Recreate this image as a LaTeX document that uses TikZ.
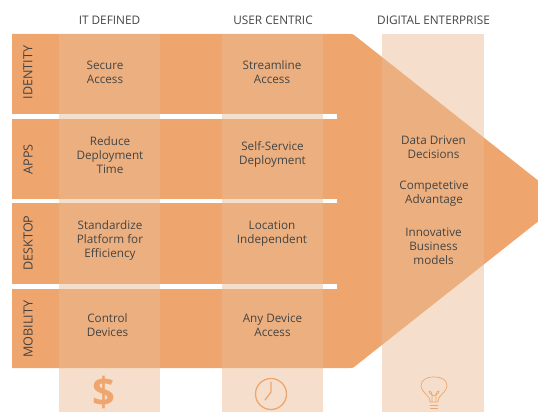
\documentclass[tikz,border=0pt]{standalone}
\usepackage{xcolor}
\usepackage{fontspec}
\setmainfont{Open Sans}
\definecolor{arrowfill}{HTML}{EFA66E}
\definecolor{colfill}{HTML}{EABC95}
\definecolor{textgray}{HTML}{444444}
\begin{document}
\begin{tikzpicture}[x=1pt,y=-1pt,thick]

	\tikzstyle{column} = [fill=colfill,fill opacity=.48]
	\tikzstyle{gapbar} = [fill=white]
	\tikzstyle{heading} = [text=textgray,font=\fontsize{11.8}{13}\selectfont,inner sep=0pt]
	\tikzstyle{rowname} = [text=textgray,font=\fontsize{12.6}{13}\selectfont,inner sep=0pt,rotate=90]
	\tikzstyle{cell} = [text=textgray,font=\fontsize{11.7}{14.2}\selectfont,align=center,inner sep=0pt]
	\tikzstyle{icon} = [draw=arrowfill,line width=1.3pt,line cap=round,line join=round]
	\tikzstyle{thinicon} = [draw=arrowfill,line width=.7pt,line cap=round,line join=round]

	\useasboundingbox (0,0) rectangle (538,412);

	% big arrow
	\begin{scope}
		\clip (0,0) rectangle (538,412);
		\fill[arrowfill] (12,34) -- (349,34) .. controls (353,34) .. (356,36.5) -- (564,201)
			-- (356,365.5) .. controls (353,368) .. (349,368) -- (12,368) -- cycle;
	\end{scope}

	% white gaps between rows
	\fill[gapbar] (12,114) rectangle (337,118.5);
	\fill[gapbar] (12,198.5) rectangle (337,203);
	\fill[gapbar] (12,283.5) rectangle (337,288.5);

	% columns
	\fill[column] (59,34) rectangle (160,412);
	\fill[column] (222,34) rectangle (323,412);
	\fill[column] (382,34) rectangle (484,412);

	\node[heading] (head1) at (109.5,20) {IT DEFINED};
	\node[heading] (head2) at (273,20) {USER CENTRIC};
	\node[heading] (head3) at (433.5,20) {DIGITAL ENTERPRISE};

	\node[rowname] (row1) at (28,72.5) {IDENTITY};
	\node[rowname] (row2) at (28,159.5) {APPS};
	\node[rowname] (row3) at (28,243) {DESKTOP};
	\node[rowname] (row4) at (28,329) {MOBILITY};

	\node[cell] (c11) at (105,72) {Secure\\Access};
	\node[cell] (c21) at (110,155) {Reduce\\Deployment\\Time};
	\node[cell] (c31) at (110,240.5) {Standardize\\Platform for\\Efficiency};
	\node[cell] (c41) at (107.5,325.5) {Control\\Devices};

	\node[cell] (c12) at (272,72) {Streamline\\Access};
	\node[cell] (c22) at (272.5,154.5) {Self-Service\\Deployment};
	\node[cell] (c32) at (272,233.5) {Location\\Independent};
	\node[cell] (c42) at (272.5,325.5) {Any Device\\Access};

	\node[cell] (c13) at (433.5,147) {Data Driven\\Decisions};
	\node[cell] (c23) at (434,194) {Competetive\\Advantage};
	\node[cell] (c33) at (433.5,246.5) {Innovative\\Business\\models};

	% icons
	\node[text=arrowfill,font=\fontsize{40}{40}\selectfont\bfseries,inner sep=0pt] (dollar) at (104,392.5) {\$};

	\draw[icon] (271,394) circle (15.5);
	\draw[icon] (271,382) -- (271,392) -- (265,400);

	\draw[thinicon] (430,402) .. controls (430,394) and (421,393) .. (421,386)
		.. controls (421,380) and (426,377) .. (434,377)
		.. controls (442,377) and (447,380) .. (447,386)
		.. controls (447,393) and (438,394) .. (438,402) -- cycle;
	\draw[thinicon] (432,402) -- (432,394) .. controls (431,390) and (427,390) .. (430,393.5) -- (434,396)
		-- (438,393.5) .. controls (441,390) and (437,390) .. (436,394) -- (436,402);
	\draw[thinicon] (430,405) -- (438,405);
	\draw[thinicon] (430.5,408) -- (437.5,408);
\end{tikzpicture}
\end{document}
